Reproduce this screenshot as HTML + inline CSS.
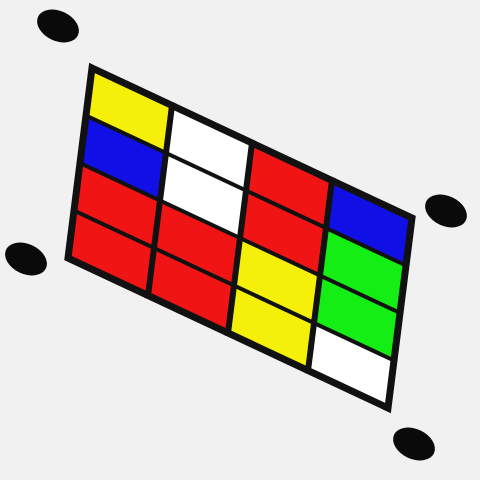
<!DOCTYPE html>
<html><head><meta charset="utf-8">
<style>
html,body{margin:0;padding:0;background:#f1f1f1;}
svg{display:block;}
</style></head>
<body>
<svg id="chart" width="480" height="480" viewBox="0 0 480 480" xmlns="http://www.w3.org/2000/svg">
<rect width="480" height="480" fill="#f1f1f1"/>
<g id="dots"></g>
<g id="cells"></g>
<g id="lines"></g>
</svg>
<script>
const gridColors = [
  ["yellow","white","red","blue"],
  ["blue","white","red","green"],
  ["red","red","yellow","green"],
  ["red","red","yellow","white"]
];
const palette = {yellow:"#f5f00a", white:"#ffffff", red:"#f01414", blue:"#1010e6", green:"#14ee14"};
const NS="http://www.w3.org/2000/svg";
const TL=[92,68], U=[320,150], V=[-24,190];
function P(u,v){return [TL[0]+u*U[0]+v*V[0], TL[1]+u*U[1]+v*V[1]];}
const rows=gridColors.length, cols=gridColors[0].length;
const cellsG=document.getElementById('cells');
for(let r=0;r<rows;r++)for(let c=0;c<cols;c++){
  const pts=[P(c/cols,r/rows),P((c+1)/cols,r/rows),P((c+1)/cols,(r+1)/rows),P(c/cols,(r+1)/rows)];
  const p=document.createElementNS(NS,'polygon');
  p.setAttribute('points',pts.map(q=>q.join(',')).join(' '));
  p.setAttribute('fill',palette[gridColors[r][c]]);
  
  
  cellsG.appendChild(p);
}
const linesG=document.getElementById('lines');
function line(a,b,w,name){
  const l=document.createElementNS(NS,'line');
  l.setAttribute('x1',a[0]);l.setAttribute('y1',a[1]);l.setAttribute('x2',b[0]);l.setAttribute('y2',b[1]);
  l.setAttribute('stroke','#111');l.setAttribute('stroke-width',w);l.setAttribute('stroke-linecap','square');
  
  
  linesG.appendChild(l);
}
for(let r=1;r<rows;r++) line(P(0,r/rows),P(1,r/rows),4,'row-divider');
for(let c=1;c<cols;c++) line(P(c/cols,0),P(c/cols,1),6,'column-divider');
const corners=[P(0,0),P(1,0),P(1,1),P(0,1)];
const poly=document.createElementNS(NS,'polygon');
poly.setAttribute('points',corners.map(q=>q.join(',')).join(' '));
poly.setAttribute('fill','none');poly.setAttribute('stroke','#111');poly.setAttribute('stroke-width',7);


linesG.appendChild(poly);
const dotPos=[[58,26],[446,211],[26,259],[414,444]];
const dotsG=document.getElementById('dots');
dotPos.forEach((d,i)=>{
  const e=document.createElementNS(NS,'ellipse');
  e.setAttribute('cx',d[0]);e.setAttribute('cy',d[1]);e.setAttribute('rx',22);e.setAttribute('ry',15);
  e.setAttribute('transform','rotate(25 '+d[0]+' '+d[1]+')');
  e.setAttribute('fill','#0a0a0a');
  
  
  dotsG.appendChild(e);
});
</script>
</body></html>
